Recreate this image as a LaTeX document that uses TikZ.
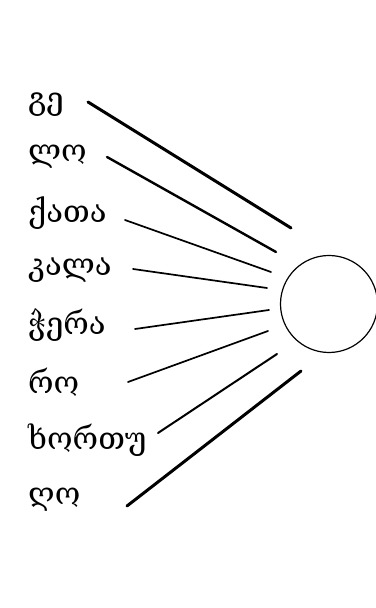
\documentclass[tikz,border=0pt]{standalone}
\usepackage{fontspec}
\newfontfamily\geo{DejaVu Serif}
\begin{document}
\begin{tikzpicture}[x=1pt,y=1pt,
  word/.style={anchor=west,inner sep=0pt,font=\geo\fontsize{31}{34}\selectfont},
  ray/.style={line width=#1,line cap=round},
  ray/.default=1.6pt]
\fill[white] (0,0) rectangle (375,608);
\useasboundingbox (0,0) rectangle (375,608);
\node[draw,circle,line width=1.2pt,minimum size=97pt,inner sep=0pt] (sun) at (329,304) {};
\node[word] (w1) at (28,503) {გე};
\node[word] (w2) at (28,451) {ლო};
\node[word] (w3) at (28,395) {ქათა};
\node[word] (w4) at (28,338) {კალა};
\node[word] (w5) at (28,283) {ჭერა};
\node[word] (w6) at (28,226) {რო};
\node[word] (w7) at (28,168) {ხორთუ};
\node[word] (w8) at (28,108) {ღო};
\coordinate (s1) at (88,506);  \coordinate (e1) at (291,380);
\coordinate (s2) at (107,451); \coordinate (e2) at (276,356);
\coordinate (s3) at (125,388); \coordinate (e3) at (271,336);
\coordinate (s4) at (133,339); \coordinate (e4) at (267,320);
\coordinate (s5) at (135,279); \coordinate (e5) at (269,298);
\coordinate (s6) at (128,226); \coordinate (e6) at (268,277);
\coordinate (s7) at (158,175); \coordinate (e7) at (277,254);
\coordinate (s8) at (127,102); \coordinate (e8) at (301,237);
\draw[ray=3pt] (s1) -- (e1);
\draw[ray=2.4pt] (s2) -- (e2);
\draw[ray=1.7pt] (s3) -- (e3);
\draw[ray=1.7pt] (s4) -- (e4);
\draw[ray=1.7pt] (s5) -- (e5);
\draw[ray=1.7pt] (s6) -- (e6);
\draw[ray=2pt] (s7) -- (e7);
\draw[ray=3pt] (s8) -- (e8);
\end{tikzpicture}
\end{document}
